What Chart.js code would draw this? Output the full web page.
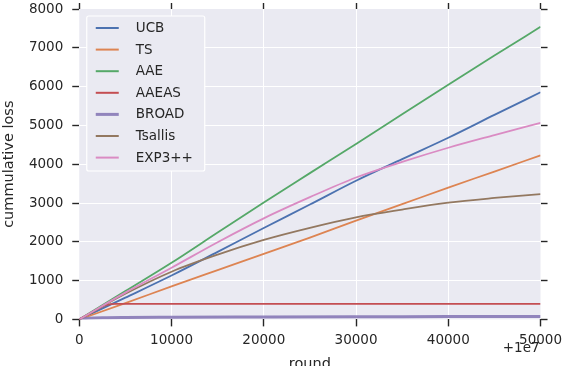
<!DOCTYPE html>
<html>
<head>
<meta charset="utf-8">
<script src="https://cdn.jsdelivr.net/npm/chart.js@4/dist/chart.umd.min.js"></script>
<style>
  html, body { margin: 0; padding: 0; background: #ffffff; }
  #chart { display: block; }
</style>
</head>
<body>
<canvas id="chart" width="568" height="366"></canvas>
<script>
// rounds (x, offset by +1e7) and cumulative loss per algorithm
const rounds = [0, 5000, 10000, 15000, 20000, 25000, 30000, 35000, 40000, 45000, 50000];
const ucb     = [0, 560, 1130, 1740, 2357, 2960, 3573, 4130, 4681, 5270, 5853];
const ts      = [0, 420, 850, 1270, 1689, 2110, 2545, 2970, 3398, 3810, 4229];
const aae     = [0, 730, 1460, 2240, 3016, 3770, 4520, 5290, 6050, 6800, 7540];
const tsallis = [0, 660, 1229, 1670, 2049, 2360, 2630, 2830, 3008, 3130, 3231];
const exp3pp  = [0, 690, 1332, 1990, 2605, 3150, 3658, 4060, 4424, 4750, 5067];

const aaeasRounds = [0, 1000, 2000, 3000, 4000, 10000, 20000, 30000, 40000, 50000];
const aaeas       = [0, 135, 265, 375, 400, 400, 400, 400, 400, 400];

const broadRounds = [0, 1000, 3000, 5000, 10000, 20000, 30000, 40000, 50000];
const broad       = [0, 30, 45, 50, 55, 62, 68, 72, 75];

const names  = ['UCB', 'TS', 'AAE', 'AAEAS', 'BROAD', 'Tsallis', 'EXP3++'];
const colors = ['#4C72B0', '#DD8452', '#55A868', '#C44E52', '#8172B3', '#937860', '#DA8BC3'];
const xTicks = [0, 10000, 20000, 30000, 40000, 50000];
const yTicks = [0, 1000, 2000, 3000, 4000, 5000, 6000, 7000, 8000];

const TEXT = '#262626';
const FONT = 'DejaVu Sans';

function pts(xs, ys) {
  return xs.map((x, i) => ({x: x, y: ys[i]}));
}

const seriesData = [
  pts(rounds, ucb),
  pts(rounds, ts),
  pts(rounds, aae),
  pts(aaeasRounds, aaeas),
  pts(broadRounds, broad),
  pts(rounds, tsallis),
  pts(rounds, exp3pp),
];

const datasets = names.map((name, i) => ({
  label: name,
  data: seriesData[i],
  borderColor: i === 4 ? 'rgba(129,114,179,0.85)' : colors[i],
  backgroundColor: colors[i],
  borderWidth: i === 4 ? 3 : 1.8,
  pointRadius: 0,
  cubicInterpolationMode: 'monotone',
  order: names.length - i,
}));

const plotBg = {
  id: 'plotBg',
  beforeDraw(chart) {
    const {ctx, chartArea: a} = chart;
    ctx.save();
    ctx.fillStyle = '#EAEAF2';
    ctx.fillRect(a.left, a.top, a.right - a.left, a.bottom - a.top);
    ctx.restore();
  }
};

const legendBox = {
  id: 'legendBox',
  afterDraw(chart) {
    const {ctx, chartArea: a} = chart;
    const x0 = a.left + 7.5, y0 = a.top + 7;
    const w = 118, h = 155;
    ctx.save();
    ctx.fillStyle = '#EAEAF2';
    ctx.strokeStyle = '#ffffff';
    ctx.lineWidth = 1.2;
    ctx.beginPath();
    ctx.roundRect(x0, y0, w, h, 2);
    ctx.fill();
    ctx.stroke();
    ctx.font = '13.5px "' + FONT + '"';
    ctx.textBaseline = 'middle';
    ctx.textAlign = 'left';
    chart.data.datasets.forEach((ds, i) => {
      const cy = y0 + 12 + i * 21.6;
      ctx.strokeStyle = ds.borderColor;
      ctx.lineWidth = i === 4 ? 3 : 2;
      ctx.beginPath();
      ctx.moveTo(x0 + 9, cy);
      ctx.lineTo(x0 + 32, cy);
      ctx.stroke();
      ctx.fillStyle = TEXT;
      ctx.fillText(ds.label, x0 + 49, cy + 0.5);
    });
    ctx.restore();
  }
};

const offsetText = {
  id: 'offsetText',
  afterDraw(chart) {
    const {ctx, chartArea: a} = chart;
    ctx.save();
    ctx.font = '13.5px "' + FONT + '"';
    ctx.fillStyle = TEXT;
    ctx.textAlign = 'right';
    ctx.textBaseline = 'middle';
    ctx.fillText('+1e7', a.right - 1, 348);
    ctx.restore();
  }
};

const edgeGrid = (ctx) => {
  const v = ctx.tick && ctx.tick.value;
  const sc = ctx.scale;
  return (v === sc.min || v === sc.max) ? 'rgba(0,0,0,0)' : '#ffffff';
};

new Chart(document.getElementById('chart'), {
  type: 'line',
  data: {datasets: datasets},
  options: {
    responsive: false,
    animation: false,
    devicePixelRatio: 1,
    layout: {padding: {left: 0, right: 17.5, top: 3, bottom: -7}},
    plugins: {
      legend: {display: false},
      tooltip: {enabled: false},
    },
    scales: {
      x: {
        type: 'linear',
        position: 'bottom',
        min: 0,
        max: 50000,
        afterBuildTicks: (s) => { s.ticks = xTicks.map(v => ({value: v})); },
        ticks: {
          color: TEXT,
          padding: 6,
          maxRotation: 0,
          font: {family: FONT, size: 13.5},
          callback: (v) => String(v),
        },
        grid: {color: edgeGrid, lineWidth: 1, tickColor: TEXT, tickLength: 7, tickWidth: 1.4},
        border: {display: false},
        title: {
          display: true,
          text: 'round',
          color: TEXT,
          font: {family: FONT, size: 14.5},
          padding: {top: 1, bottom: 0},
        },
      },
      x2: {
        type: 'linear',
        position: 'top',
        min: 0,
        max: 50000,
        afterBuildTicks: (s) => { s.ticks = xTicks.map(v => ({value: v})); },
        ticks: {display: false},
        grid: {drawOnChartArea: false, tickColor: TEXT, tickLength: 6, tickWidth: 1.4},
        border: {display: false},
      },
      y: {
        type: 'linear',
        position: 'left',
        min: 0,
        max: 8000,
        afterBuildTicks: (s) => { s.ticks = yTicks.map(v => ({value: v})); },
        afterFit: (s) => { s.paddingTop = 0; },
        ticks: {
          color: TEXT,
          padding: 9,
          font: {family: FONT, size: 13.5},
          callback: (v) => String(v),
        },
        grid: {color: edgeGrid, lineWidth: 1, tickColor: TEXT, tickLength: 7, tickWidth: 1.4},
        border: {display: false},
        title: {
          display: true,
          text: 'cummulative loss',
          color: TEXT,
          font: {family: FONT, size: 14.5},
          padding: {top: 1, bottom: 1.5},
        },
      },
      y2: {
        type: 'linear',
        position: 'right',
        min: 0,
        max: 8000,
        afterBuildTicks: (s) => { s.ticks = yTicks.map(v => ({value: v})); },
        afterFit: (s) => { s.paddingTop = 0; },
        ticks: {display: false},
        grid: {drawOnChartArea: false, tickColor: TEXT, tickLength: 7, tickWidth: 1.4},
        border: {display: false},
      },
    },
  },
  plugins: [plotBg, legendBox, offsetText],
});
</script>
</body>
</html>
